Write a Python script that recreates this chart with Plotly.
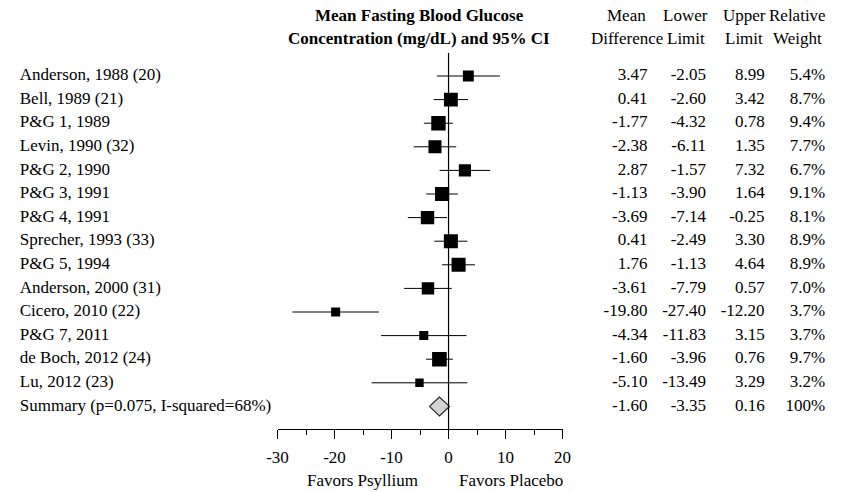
import math
import plotly.graph_objects as go

studies = ["Anderson, 1988 (20)", "Bell, 1989 (21)", "P&G 1, 1989", "Levin, 1990 (32)",
           "P&G 2, 1990", "P&G 3, 1991", "P&G 4, 1991", "Sprecher, 1993 (33)",
           "P&G 5, 1994", "Anderson, 2000 (31)", "Cicero, 2010 (22)", "P&G 7, 2011",
           "de Boch, 2012 (24)", "Lu, 2012 (23)"]
mean_diff = [3.47, 0.41, -1.77, -2.38, 2.87, -1.13, -3.69, 0.41, 1.76, -3.61, -19.80, -4.34, -1.60, -5.10]
lower = [-2.05, -2.60, -4.32, -6.11, -1.57, -3.90, -7.14, -2.49, -1.13, -7.79, -27.40, -11.83, -3.96, -13.49]
upper = [8.99, 3.42, 0.78, 1.35, 7.32, 1.64, -0.25, 3.30, 4.64, 0.57, -12.20, 3.15, 0.76, 3.29]
weight = [5.4, 8.7, 9.4, 7.7, 6.7, 9.1, 8.1, 8.9, 8.9, 7.0, 3.7, 3.7, 9.7, 3.2]

summary_label = "Summary (p=0.075, I-squared=68%)"
summary_mean = -1.60
summary_lower = -3.35
summary_upper = 0.16
summary_weight = "100%"

x_ticks = [-30, -20, -10, 0, 10, 20]
x_ticktext = ["-30", "-20", "-10", "0", "10", "20"]
x_minor = [-25, -15, -5, 5, 15]

FONT = "Liberation Serif, Times New Roman, serif"
FS = 17
W, H = 841, 492
n = len(studies)
rows = list(range(n))
sum_row = n
all_rows = rows + [sum_row]

top_px, bot_px = 53, 429
r0 = (top_px - 76) / 23.6
r1 = (bot_px - 76) / 23.6

fig = go.Figure()

# CI lines
for i in rows:
    fig.add_trace(go.Scatter(x=[lower[i], upper[i]], y=[i, i], mode="lines",
                             line=dict(color="black", width=1), showlegend=False, hoverinfo="skip"))

# squares
fig.add_trace(go.Scatter(x=mean_diff, y=rows, mode="markers",
                         marker=dict(symbol="square", color="#000000", opacity=1,
                                     size=[4.7 * math.sqrt(w) for w in weight], line=dict(width=0)),
                         showlegend=False))

# summary diamond
dh = 0.4
fig.add_trace(go.Scatter(x=[summary_lower, summary_mean, summary_upper, summary_mean, summary_lower],
                         y=[sum_row, sum_row - dh, sum_row, sum_row + dh, sum_row],
                         mode="lines", fill="toself", fillcolor="#d3d3d3",
                         line=dict(color="#222222", width=1.2), showlegend=False))

# zero line
fig.add_shape(type="line", x0=0, x1=0, xref="x", y0=(H - bot_px) / H, y1=(H - top_px) / H, yref="paper",
              line=dict(color="black", width=1.2))

# text columns (pixel-based full-width axis x2 sharing the row axis)
def text_col(xpx, texts, pos):
    fig.add_trace(go.Scatter(x=[xpx] * len(texts), y=all_rows, xaxis="x2", yaxis="y",
                             mode="text", text=texts, textposition=pos, cliponaxis=False,
                             textfont=dict(size=FS, family=FONT, color="black"),
                             marker=dict(size=1), showlegend=False, hoverinfo="skip"))

text_col(9, studies + [summary_label], "middle right")
col_x = [652, 712, 772, 834]
col_vals = [
    [f"{v:.2f}" for v in mean_diff] + [f"{summary_mean:.2f}"],
    [f"{v:.2f}" for v in lower] + [f"{summary_lower:.2f}"],
    [f"{v:.2f}" for v in upper] + [f"{summary_upper:.2f}"],
    [f"{v:.1f}%" for v in weight] + [summary_weight],
]
for cx, vals in zip(col_x, col_vals):
    text_col(cx, vals, "middle left")

ann = []
def ctxt(x, ypx, text, bold=False):
    ann.append(dict(x=x / W, y=1 - ypx / H, xref="paper", yref="paper",
                    text=f"<b>{text}</b>" if bold else text, showarrow=False,
                    xanchor="center", yanchor="middle", font=dict(size=FS)))

headers = [(631, "Mean", "Difference"), (691, "Lower", "Limit"), (751, "Upper", "Limit"), (806, "Relative", "Weight")]
for cx, a, b in headers:
    ctxt(cx, 16, a)
    ctxt(cx, 38, b)

ctxt(418, 16, "Mean Fasting Blood Glucose", bold=True)
ctxt(418, 38, "Concentration (mg/dL) and 95% CI", bold=True)
ctxt(360, 480, "Favors Psyllium")
ctxt(512, 480, "Favors Placebo")

fig.update_layout(
    width=W, height=H, margin=dict(l=0, r=0, t=0, b=0, pad=0),
    paper_bgcolor="white", plot_bgcolor="rgba(0,0,0,0)",
    font=dict(family=FONT, color="black", size=FS),
    annotations=ann,
    xaxis=dict(domain=[273 / W, 565 / W], range=[-30, 20], tickvals=x_ticks, ticktext=x_ticktext,
               showgrid=False, zeroline=False, showline=True, linecolor="black", linewidth=1,
               ticks="outside", ticklen=9, tickcolor="black", tickwidth=1,
               minor=dict(tickvals=x_minor, ticks="outside", ticklen=5, tickcolor="black"),
               ticklabelstandoff=4,
               tickfont=dict(size=FS), fixedrange=True),
    xaxis2=dict(domain=[0, 1], range=[0, W], anchor="y", visible=False,
                showgrid=False, zeroline=False, fixedrange=True),
    yaxis=dict(domain=[(H - bot_px) / H, (H - top_px) / H], range=[r1, r0], visible=False,
               showgrid=False, zeroline=False),
)

fig.write_html("out.html", config={"displayModeBar": False},
               post_script="document.body.style.margin='0';document.body.style.overflow='hidden';")
